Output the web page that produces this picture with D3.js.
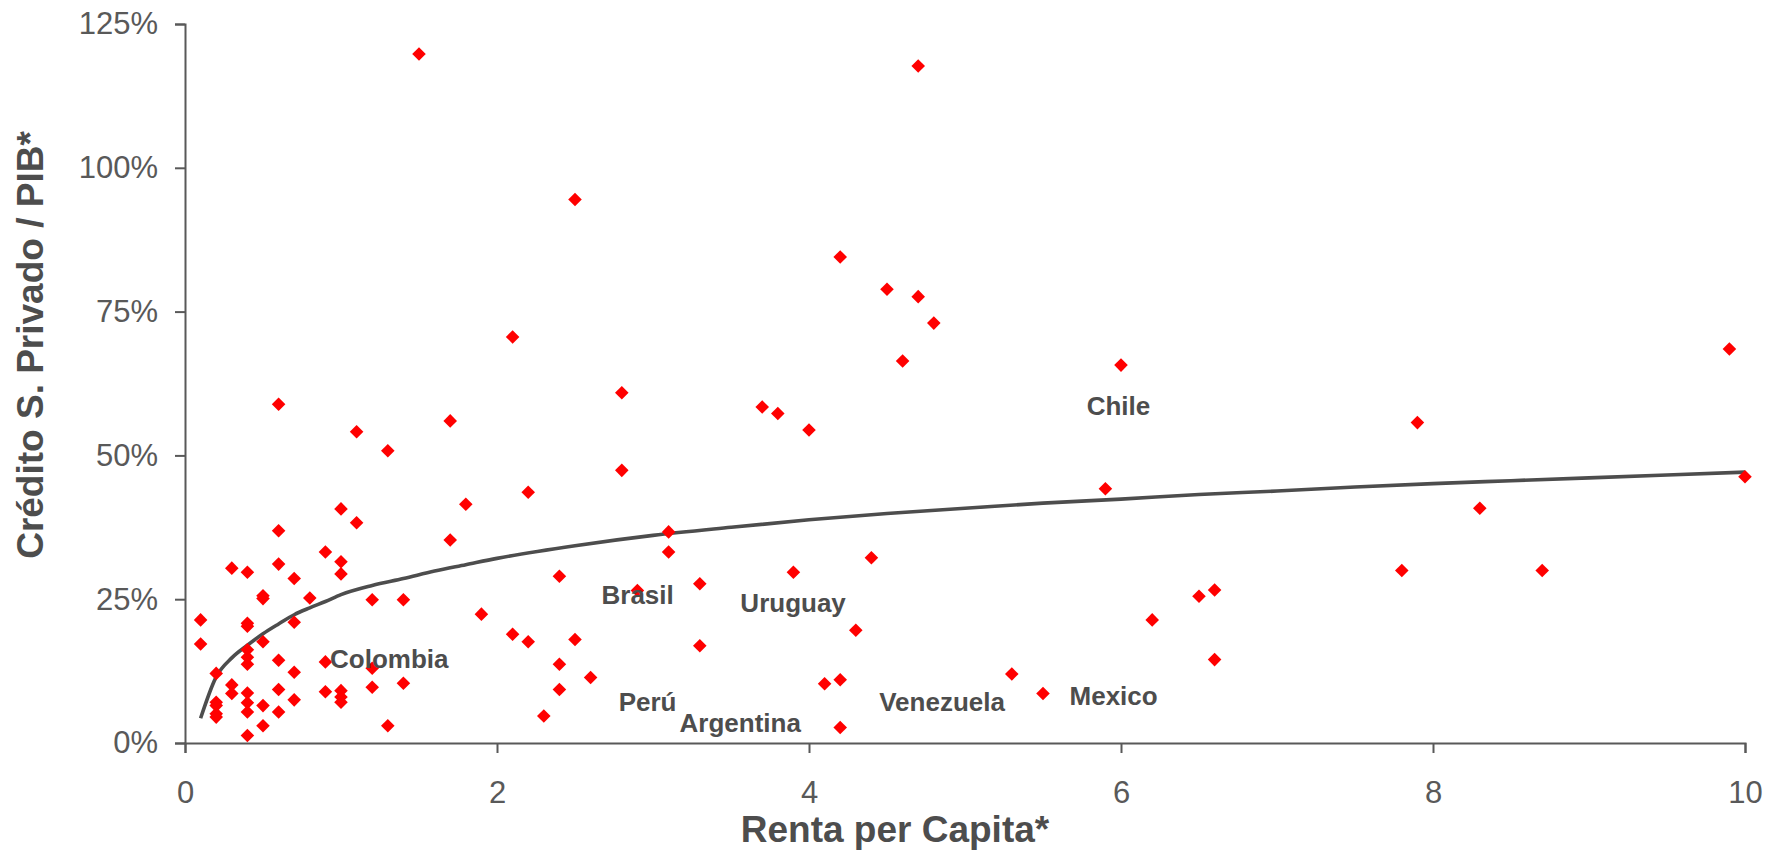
<!DOCTYPE html>
<html>
<head>
<meta charset="utf-8">
<script src="https://cdn.jsdelivr.net/npm/d3@7"></script>
<style>
  body { margin: 0; background: #fff; }
  svg { display: block; font-family: "Liberation Sans", Arial, sans-serif; }
</style>
</head>
<body>
<div id="chart"></div>
<script>
// renta per capita (x) and credito privado / PIB (y, %) for each country point
const rentaPC = [
  0.1, 0.1,
  0.2, 0.2, 0.2, 0.2, 0.2,
  0.3, 0.3, 0.3,
  0.4, 0.4, 0.4, 0.4, 0.4, 0.4, 0.4, 0.4, 0.4, 0.4,
  0.5, 0.5, 0.5, 0.5, 0.5,
  0.6, 0.6, 0.6, 0.6, 0.6, 0.6,
  0.7, 0.7, 0.7, 0.7,
  0.8,
  0.9, 0.9, 0.9,
  1.0, 1.0, 1.0, 1.0, 1.0, 1.0,
  1.1, 1.1,
  1.2, 1.2, 1.2,
  1.3, 1.3,
  1.4, 1.4,
  1.5,
  1.7, 1.7,
  1.8, 1.9,
  2.1, 2.1,
  2.2, 2.2,
  2.3,
  2.4, 2.4, 2.4,
  2.5, 2.5,
  2.6,
  2.8, 2.8,
  2.9,
  3.1, 3.1,
  3.3, 3.3,
  3.7, 3.8, 3.9, 4.0, 4.1,
  4.2, 4.2, 4.2,
  4.3, 4.4, 4.5, 4.6,
  4.7, 4.7,
  4.8, 5.3, 5.5, 5.9, 6.0, 6.2, 6.5,
  6.6, 6.6,
  7.8, 7.9, 8.3, 8.7, 9.9, 10.0
];
const creditoPIB = [
  21.4, 17.2,
  12.1, 7.1, 6.5, 5.1, 4.5,
  30.4, 10.1, 8.6,
  29.7, 20.8, 20.3, 16.2, 14.9, 13.7, 8.7, 7.0, 5.4, 1.3,
  25.6, 25.1, 17.6, 6.5, 3.0,
  58.9, 36.9, 31.1, 14.4, 9.3, 5.4,
  28.6, 21.0, 12.3, 7.5,
  25.2,
  33.2, 14.1, 8.9,
  40.7, 31.5, 29.4, 9.1, 8.0, 7.1,
  54.1, 38.3,
  24.9, 13.0, 9.7,
  50.8, 3.0,
  24.9, 10.4,
  119.8,
  56.0, 35.3,
  41.5, 22.4,
  70.6, 18.9,
  43.6, 17.6,
  4.7,
  29.0, 13.7, 9.3,
  94.5, 18.0,
  11.4,
  60.9, 47.4,
  26.5,
  36.7, 33.2,
  27.7, 16.9,
  58.4, 57.3, 29.7, 54.4, 10.3,
  84.5, 11.0, 2.7,
  19.6, 32.2, 78.9, 66.4,
  117.7, 77.6,
  73.0, 12.0, 8.6, 44.2, 65.7, 21.4, 25.5,
  26.6, 14.5,
  30.0, 55.7, 40.8, 30.0, 68.5, 46.3
];

// logarithmic trend line
const trendX = [0.1, 0.2, 0.3, 0.4, 0.5, 0.6, 0.7, 0.8, 0.9, 1.0, 1.2, 1.4, 1.6, 1.8, 2.0,
  2.5, 3.0, 3.5, 4.0, 4.5, 5.0, 5.5, 6.0, 6.5, 7.0, 7.5, 8.0, 8.5, 9.0, 9.5, 10.0];
const trendY = [4.3, 11.5, 14.8, 17.0, 19.0, 20.7, 22.3, 23.5, 24.6, 25.8, 27.4, 28.6, 29.9, 31.0, 32.1,
  34.3, 36.1, 37.5, 38.8, 39.9, 40.8, 41.7, 42.4, 43.2, 43.8, 44.5, 45.1, 45.6, 46.1, 46.6, 47.1];

// country labels
const countries = ["Colombia", "Brasil", "Uruguay", "Perú", "Argentina", "Venezuela", "Mexico", "Chile"];
const countryX = [0.93, 2.67, 3.56, 2.78, 3.17, 4.45, 5.67, 5.78];
const countryY = [13.0, 24.2, 22.7, 5.6, 1.85, 5.6, 6.65, 57.1];

const xTicks = [0, 2, 4, 6, 8, 10];
const yTicks = [0, 25, 50, 75, 100, 125];

const width = 1765, height = 850;
const axisColor = "#595959";
const textColor = "#4d4d4d";

const svg = d3.select("#chart").append("svg")
    .attr("width", width)
    .attr("height", height);

const x = d3.scaleLinear().domain([0, 10]).range([185, 1745]);
const y = d3.scaleLinear().domain([0, 125]).range([743, 24]);

// axes
const yAxis = svg.append("g")
    .attr("transform", `translate(${x(0)},0)`)
    .call(d3.axisLeft(y).tickValues(yTicks).tickSize(10).tickPadding(17)
        .tickFormat(d => d + "%"));

const xAxis = svg.append("g")
    .attr("transform", `translate(0,${y(0)})`)
    .call(d3.axisBottom(x).tickValues(xTicks).tickSize(10).tickPadding(28)
        .tickFormat(d3.format("d")));

[xAxis, yAxis].forEach(g => {
    g.select(".domain").attr("stroke", axisColor).attr("stroke-width", 2);
    g.selectAll(".tick line").attr("stroke", axisColor).attr("stroke-width", 2);
    g.selectAll(".tick text")
        .attr("fill", axisColor)
        .attr("font-size", "31px")
        .attr("font-family", "Liberation Sans, Arial, sans-serif");
});

// trend line
const trend = trendX.map((d, i) => [d, trendY[i]]);
svg.append("path")
    .datum(trend)
    .attr("fill", "none")
    .attr("stroke", textColor)
    .attr("stroke-width", 3.6)
    .attr("stroke-linejoin", "round")
    .attr("d", d3.line().x(d => x(d[0])).y(d => y(d[1])).curve(d3.curveMonotoneX));

// points
const diamond = d3.symbol().type(d3.symbolSquare).size(92);
svg.append("g")
    .selectAll("path")
    .data(rentaPC.map((d, i) => [d, creditoPIB[i]]))
    .join("path")
    .attr("d", diamond)
    .attr("fill", "#ff0000")
    .attr("transform", d => `translate(${x(d[0])},${y(d[1])}) rotate(45)`);

// country labels
svg.append("g")
    .selectAll("text")
    .data(countries)
    .join("text")
    .attr("x", (d, i) => x(countryX[i]))
    .attr("y", (d, i) => y(countryY[i]))
    .attr("fill", textColor)
    .attr("font-size", "26px")
    .attr("font-weight", "bold")
    .text(d => d);

// axis titles
svg.append("text")
    .attr("x", 895)
    .attr("y", 842)
    .attr("text-anchor", "middle")
    .attr("fill", textColor)
    .attr("font-size", "37px")
    .attr("font-weight", "bold")
    .text("Renta per Capita*");

svg.append("text")
    .attr("transform", "translate(43,345) rotate(-90)")
    .attr("text-anchor", "middle")
    .attr("fill", textColor)
    .attr("font-size", "37px")
    .attr("font-weight", "bold")
    .text("Crédito S. Privado / PIB*");
</script>
</body>
</html>
